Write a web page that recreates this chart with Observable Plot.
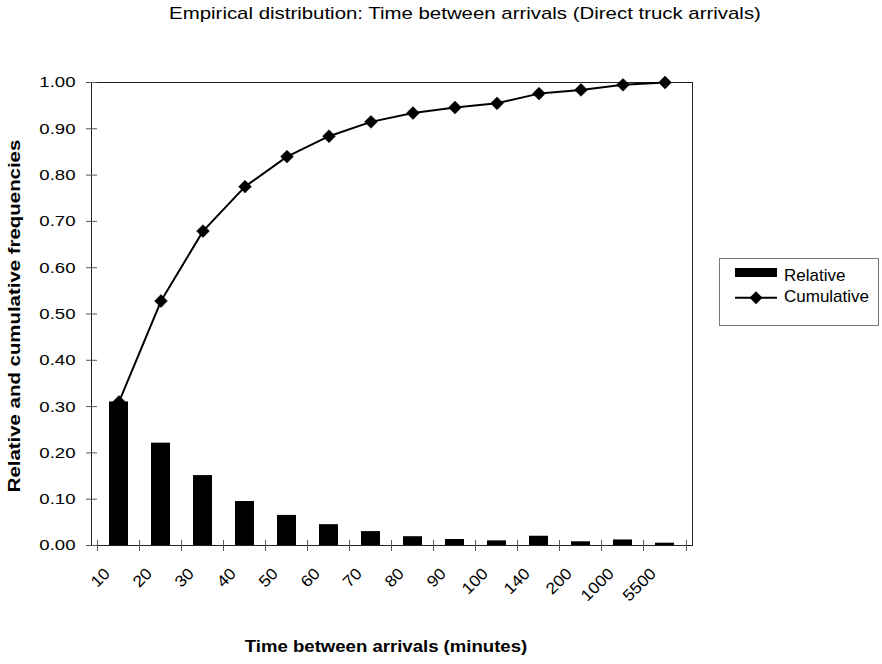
<!DOCTYPE html>
<html>
<head>
<meta charset="utf-8">
<script src="https://cdn.jsdelivr.net/npm/d3@7"></script>
<script src="https://cdn.jsdelivr.net/npm/@observablehq/plot@0.6"></script>
<style>
  body { margin: 0; background: #fff; }
  #wrap { position: relative; width: 882px; height: 664px; background: #fff; font-family: "Liberation Sans", Arial, sans-serif; color: #000; overflow: hidden; }
  #chart { position: absolute; left: 0; top: 0; }
  #title { position: absolute; left: 465px; top: 4px; font-size: 17px; line-height: 20px; white-space: nowrap; transform: translateX(-50%) scaleX(1.2); }
  #xlabel { position: absolute; left: 386px; top: 637px; font-size: 16px; font-weight: bold; line-height: 20px; white-space: nowrap; transform: translateX(-50%) scaleX(1.16); }
  #ylabel { position: absolute; left: 14.6px; top: 316px; font-size: 17px; font-weight: bold; line-height: 20px; white-space: nowrap; transform: translate(-50%, -50%) rotate(-90deg) scaleX(1.2); }
  #legend { position: absolute; left: 719px; top: 258px; }
</style>
</head>
<body>
<div id="wrap">
  <div id="chart"></div>
  <div id="title">Empirical distribution: Time between arrivals (Direct truck arrivals)</div>
  <div id="ylabel">Relative and cumulative frequencies</div>
  <div id="xlabel">Time between arrivals (minutes)</div>
  <div id="legend"></div>
</div>
<script>
// ---- data ----
const categories = ["10", "20", "30", "40", "50", "60", "70", "80", "90", "100", "140", "200", "1000", "5500"];
const relative = [0.310, 0.221, 0.151, 0.095, 0.065, 0.045, 0.030, 0.019, 0.013, 0.010, 0.020, 0.008, 0.012, 0.005];
const cumulative = [0.310, 0.528, 0.679, 0.775, 0.840, 0.884, 0.915, 0.934, 0.946, 0.955, 0.976, 0.984, 0.995, 1.000];
const yTicks = [0, 0.1, 0.2, 0.3, 0.4, 0.5, 0.6, 0.7, 0.8, 0.9, 1.0];
const seriesNames = ["Relative", "Cumulative"];

const rows = categories.map((c, i) => ({cat: c, rel: relative[i], cum: cumulative[i]}));

const W = 882, H = 664;
const mL = 91, mR = 190, mT = 82, mB = 119;
const step = (W - mL - mR) / categories.length;

// short line symbols for the crossing tick marks
const hTick = {draw(ctx) { ctx.moveTo(-5.5, 0); ctx.lineTo(5.5, 0); }};
const vTick = {draw(ctx) { ctx.moveTo(0, -5.5); ctx.lineTo(0, 5.5); }};

const chart = Plot.plot({
  width: W, height: H,
  marginLeft: mL, marginRight: mR, marginTop: mT, marginBottom: mB,
  style: {fontFamily: "'Liberation Sans', Arial, sans-serif", color: "#000", background: "transparent", overflow: "visible"},
  x: {domain: categories, paddingInner: 0.54, paddingOuter: 0.27, axis: null},
  y: {domain: [0, 1], axis: null},
  marks: [
    Plot.barY(rows, {x: "cat", y: "rel", fill: "#000"}),
    Plot.frame({stroke: "#222", strokeWidth: 1}),
    // y ticks crossing the axis
    Plot.dot(yTicks, {y: d => d, frameAnchor: "left", symbol: hTick, stroke: "#555", strokeWidth: 1, fill: "none"}),
    // x ticks at category boundaries
    Plot.dot(categories, {x: d => d, frameAnchor: "bottom", dx: -step / 2, symbol: vTick, stroke: "#555", strokeWidth: 1, fill: "none"}),
    Plot.dot(categories.slice(-1), {x: d => d, frameAnchor: "bottom", dx: step / 2, symbol: vTick, stroke: "#555", strokeWidth: 1, fill: "none"}),
    // y tick labels
    Plot.text(yTicks, {y: d => d, text: d => d3.format(".2f")(d), frameAnchor: "left", textAnchor: "end", lineAnchor: "middle", dx: -16, fontSize: 15.5, fill: "#000"}),
    // x tick labels
    Plot.text(categories, {x: d => d, text: d => d, frameAnchor: "bottom", rotate: -45, textAnchor: "end", lineAnchor: "bottom", dx: -8, dy: 29, fontSize: 16, fill: "#000"}),
    // cumulative line
    Plot.line(rows, {x: "cat", y: "cum", stroke: "#000", strokeWidth: 2}),
    Plot.dot(rows, {x: "cat", y: "cum", symbol: "diamond2", r: 5.8, fill: "#000", stroke: "#000", strokeWidth: 0.5})
  ]
});
document.getElementById("chart").appendChild(chart);

// widen the tick label glyphs like the reference's stretched text
chart.querySelectorAll("text").forEach(t => {
  const rotated = (t.getAttribute("transform") || "").includes("rotate");
  const k = rotated ? 1.1 : 1.2;
  let L = t.getComputedTextLength();
  if (!(L > 0)) L = t.getBBox().width;
  if (L > 0) {
    t.setAttribute("textLength", (L * k).toFixed(2));
    t.setAttribute("lengthAdjust", "spacingAndGlyphs");
  }
});

// legend
const lg = d3.select("#legend").append("svg").attr("width", 161).attr("height", 69)
  .style("font-family", "'Liberation Sans', Arial, sans-serif");
lg.append("rect").attr("x", 0.5).attr("y", 0.5).attr("width", 159).attr("height", 67)
  .attr("fill", "#fff").attr("stroke", "#777");
lg.append("rect").attr("x", 16).attr("y", 10).attr("width", 42).attr("height", 9).attr("fill", "#000");
lg.append("line").attr("x1", 16).attr("x2", 58).attr("y1", 39.7).attr("y2", 39.7).attr("stroke", "#000").attr("stroke-width", 2);
lg.append("path").attr("d", d3.symbol(d3.symbolDiamond2, Math.PI * 5.8 * 5.8)()).attr("transform", "translate(37,39.7)").attr("fill", "#000");
lg.selectAll("text.lab").data(seriesNames).join("text").attr("class", "lab")
  .attr("x", 65).attr("y", (d, i) => i === 0 ? 23 : 44)
  .attr("font-size", 17).text(d => d);
</script>
</body>
</html>
